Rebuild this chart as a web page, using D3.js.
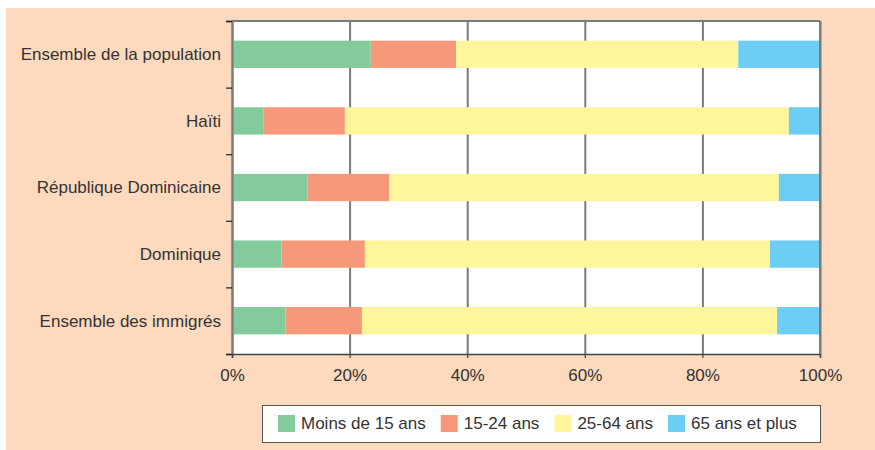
<!DOCTYPE html>
<html>
<head>
<meta charset="utf-8">
<script src="https://cdn.jsdelivr.net/npm/d3@7"></script>
<style>
  body { margin: 0; background: #fff; }
  svg { display: block; font-family: "Liberation Sans", Arial, sans-serif; }
  .grid line { stroke: #7a7a7a; stroke-width: 2; }
  .grid path { display: none; }
</style>
</head>
<body>
<svg id="chart" width="875" height="450"></svg>
<script>
// categories (top to bottom)
var categories = ["Ensemble de la population", "Haïti", "République Dominicaine", "Dominique", "Ensemble des immigrés"];
var seriesNames = ["Moins de 15 ans", "15-24 ans", "25-64 ans", "65 ans et plus"];
var seriesColors = ["#84cb9c", "#f6997a", "#fff59b", "#6dcef5"];

// shares in % per category, one array per age group
var moins15 = [23.6, 5.4, 12.8, 8.4, 9.1];
var age15_24 = [14.5, 13.8, 13.9, 14.2, 13.0];
var age25_64 = [48.0, 75.5, 66.3, 68.9, 70.6];
var plus65 = [13.9, 5.3, 7.0, 8.5, 7.3];

var xTicks = [0, 20, 40, 60, 80, 100];

var svg = d3.select("#chart");

// peach background
svg.append("rect")
  .attr("x", 6).attr("y", 8)
  .attr("width", 869).attr("height", 442)
  .attr("fill", "#fddabd");

var margin = {top: 21, left: 232, right: 55, bottom: 96},
    width = 875 - margin.left - margin.right,
    height = 450 - margin.top - margin.bottom;

var g = svg.append("g")
  .attr("transform", "translate(" + margin.left + "," + margin.top + ")");

var x = d3.scaleLinear().domain([0, 100]).range([0, width]);
var y = d3.scaleBand().domain(categories).range([0, height])
  .paddingInner(0.59).paddingOuter(0.295);
// boundaries between categories, for the left ticks
var yEdge = d3.scaleLinear().domain([0, categories.length]).range([0, height]);

// white plot area
g.append("rect")
  .attr("width", width).attr("height", height)
  .attr("fill", "#fff");

// vertical gridlines
g.append("g")
  .attr("class", "grid")
  .call(d3.axisTop(x).tickValues(xTicks).tickSize(-height).tickFormat(""));

// top border
g.append("line")
  .attr("x1", 0).attr("x2", width)
  .attr("y1", 0).attr("y2", 0)
  .attr("stroke", "#7a7a7a").attr("stroke-width", 2);

// stack the data
var table = categories.map(function(c, i) {
  return {cat: c, s0: moins15[i], s1: age15_24[i], s2: age25_64[i], s3: plus65[i]};
});
var stack = d3.stack().keys(["s0", "s1", "s2", "s3"])(table);

g.selectAll("g.series")
  .data(stack)
  .enter().append("g")
  .attr("class", "series")
  .attr("fill", function(d, i) { return seriesColors[i]; })
  .selectAll("rect")
  .data(function(d) { return d; })
  .enter().append("rect")
  .attr("x", function(d) { return x(d[0]); })
  .attr("width", function(d) { return x(d[1]) - x(d[0]); })
  .attr("y", function(d) { return y(d.data.cat); })
  .attr("height", y.bandwidth());

// left axis: ticks at category boundaries
var yAxis = g.append("g")
  .call(d3.axisLeft(yEdge).ticks(5).tickSize(6).tickFormat(""));
yAxis.select(".domain").attr("stroke", "#7a7a7a").attr("stroke-width", 2);
yAxis.selectAll(".tick line").attr("stroke", "#222").attr("stroke-width", 1.2);

// category labels
g.append("g")
  .selectAll("text")
  .data(categories)
  .enter().append("text")
  .attr("x", -11)
  .attr("y", function(d) { return y(d) + y.bandwidth() / 2; })
  .attr("dy", "0.35em")
  .attr("text-anchor", "end")
  .attr("font-size", 17)
  .attr("fill", "#333")
  .text(function(d) { return d; });

// bottom axis
var xAxis = g.append("g")
  .attr("transform", "translate(0," + height + ")")
  .call(d3.axisBottom(x).tickValues(xTicks).tickSize(4).tickPadding(11)
    .tickFormat(function(d) { return d + "%"; }));
xAxis.select(".domain").attr("stroke", "#444").attr("stroke-width", 1.5);
xAxis.selectAll(".tick line").attr("stroke", "#444").attr("stroke-width", 1.2);
xAxis.selectAll("text").attr("font-size", 17).attr("fill", "#333")
  .attr("font-family", "Liberation Sans, Arial, sans-serif");

// right border
g.append("line")
  .attr("x1", width).attr("x2", width)
  .attr("y1", 0).attr("y2", height)
  .attr("stroke", "#7a7a7a").attr("stroke-width", 2);

// legend
var legend = svg.append("g");
var legBox = legend.append("rect")
  .attr("x", 262.5).attr("y", 405.5)
  .attr("width", 558).attr("height", 37)
  .attr("fill", "#fff").attr("stroke", "#555").attr("stroke-width", 1);

var lx = 278;
seriesNames.forEach(function(name, i) {
  legend.append("rect")
    .attr("x", lx).attr("y", 415)
    .attr("width", 17).attr("height", 17)
    .attr("fill", seriesColors[i]);
  var t = legend.append("text")
    .attr("x", lx + 23).attr("y", 423.5)
    .attr("dy", "0.35em")
    .attr("font-size", 17)
    .attr("fill", "#333")
    .text(name);
  lx += 23 + t.node().getComputedTextLength() + 15;
});
</script>
</body>
</html>
